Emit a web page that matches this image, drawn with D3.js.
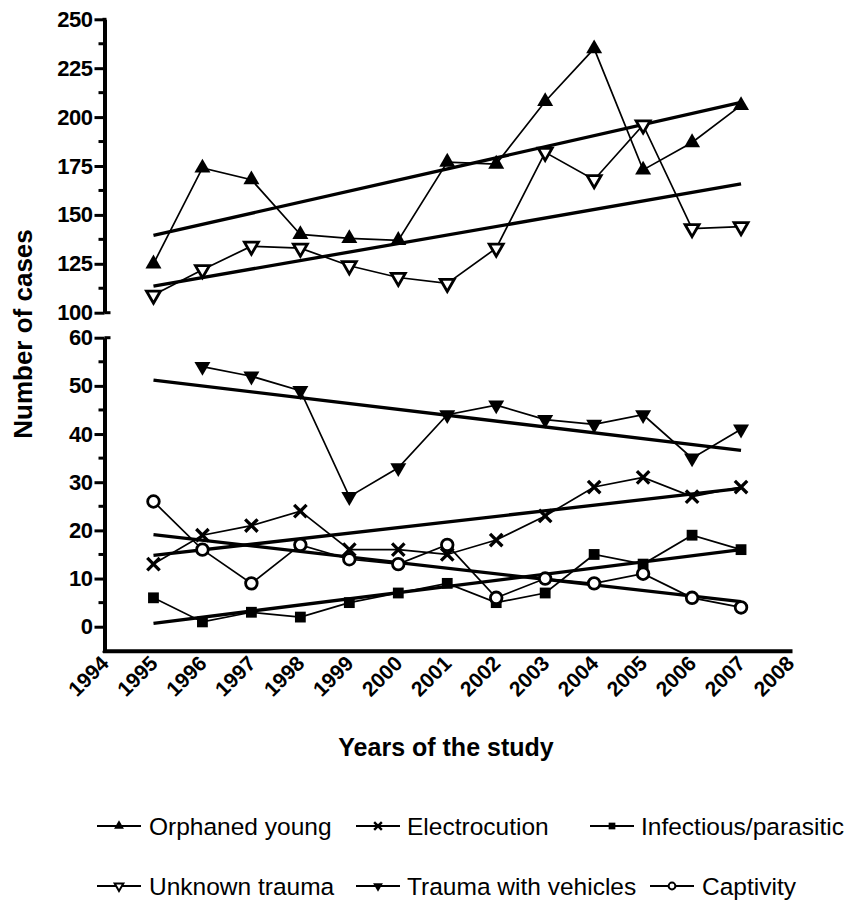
<!DOCTYPE html>
<html>
<head>
<meta charset="utf-8">
<script src="https://cdn.jsdelivr.net/npm/d3@7"></script>
<style>
  html, body { margin: 0; padding: 0; background: #fff; }
  svg { display: block; }
  text { font-family: "Liberation Sans", Arial, Helvetica, sans-serif; fill: #000; }
</style>
</head>
<body>
<svg id="chart" width="852" height="900"></svg>
<script>
// ---------- data ----------
const years = [1995, 1996, 1997, 1998, 1999, 2000, 2001, 2002, 2003, 2004, 2005, 2006, 2007];
const xTickYears = [1994, 1995, 1996, 1997, 1998, 1999, 2000, 2001, 2002, 2003, 2004, 2005, 2006, 2007, 2008];
const topTicks = [100, 125, 150, 175, 200, 225, 250];
const topMinorTicks = [112.5, 137.5, 162.5, 187.5, 212.5, 237.5];
const bottomTicks = [0, 10, 20, 30, 40, 50, 60];
const bottomMinorTicks = [5, 15, 25, 35, 45, 55];

const orphanedYoung = [125, 174, 168, 140, 138, 137, 177, 176, 208, 235, 173, 187, 206];
const unknownTrauma = [109, 122, 134, 133, 124, 118, 115, 133, 182, 168, 196, 143, 144];
const traumaVehicles = [null, 54, 52, 49, 27, 33, 44, 46, 43, 42, 44, 35, 41];
const electrocution = [13, 19, 21, 24, 16, 16, 15, 18, 23, 29, 31, 27, 29];
const infectious = [6, 1, 3, 2, 5, 7, 9, 5, 7, 15, 13, 19, 16];
const captivity = [26, 16, 9, 17, 14, 13, 17, 6, 10, 9, 11, 6, 4];

// trend line end values at 1995 and 2007
const trendYears = [1995, 2007];
const trendOrphaned = [139.5, 207.5];
const trendUnknown = [113.6, 165.8];
const trendVehicles = [51.2, 36.6];
const trendElectro = [14.8, 28.7];
const trendInfectious = [0.7, 16];
const trendCaptivity = [19.1, 5.2];

const legendNames = ["Orphaned young", "Electrocution", "Infectious/parasitic",
                     "Unknown trauma", "Trauma with vehicles", "Captivity"];

// ---------- scales ----------
const svg = d3.select("#chart");
const x = d3.scaleLinear().domain([1994, 2008]).range([104.5, 790]);
const yTop = d3.scaleLinear().domain([100, 250]).range([312.7, 19.3]);
const yBot = d3.scaleLinear().domain([-5, 60]).range([650.8, 337.7]);

// ---------- marker shapes ----------
function triUp(s) {
  const h = s * Math.sqrt(3) / 2;
  return `M0,${-2 * h / 3}L${s / 2},${h / 3}L${-s / 2},${h / 3}Z`;
}
function triDown(s) {
  const h = s * Math.sqrt(3) / 2;
  return `M0,${2 * h / 3}L${s / 2},${-h / 3}L${-s / 2},${-h / 3}Z`;
}
function drawMarker(g, type, big) {
  const k = big ? 1 : 0.62;
  if (type === "triUp") {
    g.append("path").attr("d", triUp(16 * k)).attr("fill", "#000");
  } else if (type === "triDownOpen") {
    g.append("path").attr("d", triDown(14 * k)).attr("fill", "#fff")
      .attr("stroke", "#000").attr("stroke-width", big ? 2.8 : 2);
  } else if (type === "triDown") {
    g.append("path").attr("d", triDown(16 * k)).attr("fill", "#000");
  } else if (type === "x") {
    const r = 6.2 * k;
    g.append("path").attr("d", `M${-r},${-r}L${r},${r}M${-r},${r}L${r},${-r}`)
      .attr("stroke", "#000").attr("stroke-width", big ? 3.3 : 2.4).attr("fill", "none");
  } else if (type === "square") {
    const r = 5.4 * k;
    g.append("rect").attr("x", -r).attr("y", -r).attr("width", 2 * r).attr("height", 2 * r).attr("fill", "#000");
  } else if (type === "circleOpen") {
    g.append("circle").attr("r", big ? 5.8 : 3.4).attr("fill", "#fff")
      .attr("stroke", "#000").attr("stroke-width", big ? 2.8 : 2);
  }
}

const series = [
  { values: orphanedYoung, trend: trendOrphaned, y: yTop, marker: "triUp" },
  { values: unknownTrauma, trend: trendUnknown, y: yTop, marker: "triDownOpen" },
  { values: traumaVehicles, trend: trendVehicles, y: yBot, marker: "triDown" },
  { values: electrocution, trend: trendElectro, y: yBot, marker: "x" },
  { values: infectious, trend: trendInfectious, y: yBot, marker: "square" },
  { values: captivity, trend: trendCaptivity, y: yBot, marker: "circleOpen" }
];

// ---------- axes ----------
const axisG = svg.append("g");

function yAxis(scale, ticks, minor) {
  const g = axisG.append("g").attr("transform", `translate(${x(1994)},0)`);
  g.call(d3.axisLeft(scale).tickValues(ticks).tickSize(10).tickSizeOuter(0).tickPadding(2));
  g.select(".domain").attr("stroke-width", 4).attr("stroke", "#000");
  g.selectAll(".tick line").attr("stroke-width", 3).attr("stroke", "#000");
  g.selectAll(".tick text").attr("font-size", 22).attr("font-weight", "bold").attr("fill", "#000")
    .attr("letter-spacing", -0.5);
  g.selectAll(".minor").data(minor).enter().append("line")
    .attr("x1", -6).attr("x2", 0)
    .attr("y1", d => scale(d)).attr("y2", d => scale(d))
    .attr("stroke", "#000").attr("stroke-width", 3);
  return g;
}
yAxis(yTop, topTicks, topMinorTicks);
yAxis(yBot, bottomTicks, bottomMinorTicks);
// break caps (extend right)
[yTop(100), yBot(60)].forEach(yy => {
  axisG.append("line").attr("x1", x(1994)).attr("x2", x(1994) + 6)
    .attr("y1", yy).attr("y2", yy).attr("stroke", "#000").attr("stroke-width", 3);
});
// top end of the upper axis
axisG.append("line").attr("x1", x(1994)).attr("x2", x(1994))
  .attr("y1", yTop(250) - 1.5).attr("y2", yTop(250) + 1)
  .attr("stroke", "#000").attr("stroke-width", 4);

// x axis
const gX = axisG.append("g").attr("transform", `translate(0,${yBot(-5)})`);
gX.call(d3.axisBottom(x).tickValues(xTickYears).tickFormat(d3.format("d")).tickSize(0).tickSizeOuter(0));
gX.select(".domain").attr("stroke-width", 4).attr("stroke", "#000").attr("stroke-linecap", "square");
gX.selectAll(".tick text")
  .attr("font-size", 21).attr("font-weight", "bold").attr("fill", "#000")
  .attr("text-anchor", "end")
  .attr("transform", "translate(5,14) rotate(-45)")
  .attr("dy", "0").attr("y", 0);
// join corner of y axis and x axis
axisG.append("line").attr("x1", x(1994)).attr("x2", x(1994))
  .attr("y1", yBot(-5)).attr("y2", yBot(-5) + 2)
  .attr("stroke", "#000").attr("stroke-width", 4);

// axis titles
svg.append("text").attr("x", 446).attr("y", 756)
  .attr("text-anchor", "middle").attr("font-size", 25).attr("font-weight", "bold")
  .text("Years of the study");
svg.append("text").attr("transform", "translate(32,334) rotate(-90)")
  .attr("text-anchor", "middle").attr("font-size", 26).attr("font-weight", "bold")
  .text("Number of cases");

// ---------- plot ----------
const plot = svg.append("g");
series.forEach(s => {
  const line = d3.line().defined(d => d.v != null).x(d => x(d.yr)).y(d => s.y(d.v));
  const pts = years.map((yr, i) => ({ yr, v: s.values[i] }));
  plot.append("path").datum(pts).attr("d", line)
    .attr("fill", "none").attr("stroke", "#000").attr("stroke-width", 1.7);
});
series.forEach(s => {
  const line = d3.line().x(d => x(d.yr)).y(d => s.y(d.v));
  const pts = trendYears.map((yr, i) => ({ yr, v: s.trend[i] }));
  plot.append("path").datum(pts).attr("d", line)
    .attr("fill", "none").attr("stroke", "#000").attr("stroke-width", 3.3);
});
series.forEach(s => {
  years.forEach((yr, i) => {
    const v = s.values[i];
    if (v == null) return;
    const g = plot.append("g").attr("transform", `translate(${x(yr)},${s.y(v)})`);
    drawMarker(g, s.marker, true);
  });
});

// ---------- legend ----------
const legendItems = [
  { name: legendNames[0], marker: "triUp", x0: 97, tx: 149, y: 826 },
  { name: legendNames[1], marker: "x", x0: 356, tx: 407, y: 826 },
  { name: legendNames[2], marker: "square", x0: 590, tx: 641, y: 826 },
  { name: legendNames[3], marker: "triDownOpen", x0: 97, tx: 149, y: 886 },
  { name: legendNames[4], marker: "triDown", x0: 356, tx: 407, y: 886 },
  { name: legendNames[5], marker: "circleOpen", x0: 650, tx: 702, y: 886 }
];
const leg = svg.append("g");
legendItems.forEach(it => {
  const g = leg.append("g");
  g.append("line").attr("x1", it.x0).attr("x2", it.x0 + 44)
    .attr("y1", it.y).attr("y2", it.y).attr("stroke", "#000").attr("stroke-width", 1.8);
  const m = g.append("g").attr("transform", `translate(${it.x0 + 22},${it.y})`);
  drawMarker(m, it.marker, false);
  g.append("text").attr("x", it.tx).attr("y", it.y + 9)
    .attr("font-size", 24.5).text(it.name);
});
</script>
</body>
</html>
